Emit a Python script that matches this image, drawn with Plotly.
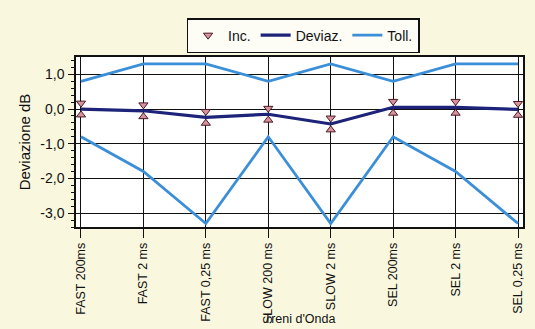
import plotly.graph_objects as go

# Tone-burst test: deviation from reference response vs. tolerance limits
categories = ["FAST 200ms", "FAST 2 ms", "FAST 0,25 ms", "SLOW 200 ms",
              "SLOW 2 ms", "SEL 200ms", "SEL 2 ms", "SEL 0,25 ms"]
deviation = [0.00, -0.05, -0.24, -0.15, -0.43, 0.05, 0.05, -0.01]
uncertainty = [0.17, 0.17, 0.17, 0.17, 0.17, 0.17, 0.17, 0.17]
tol_upper = [0.8, 1.3, 1.3, 0.8, 1.3, 0.8, 1.3, 1.3]
tol_lower = [-0.8, -1.8, -3.3, -0.8, -3.3, -0.8, -1.8, -3.3]

y_tick_vals = [1.0, 0.0, -1.0, -2.0, -3.0]
y_tick_text = ["1,0", "0,0", "-1,0", "-2,0", "-3,0"]

FONT = "Liberation Sans, Arial, sans-serif"
TOLL_COLOR = "#3b8fd8"
DEV_COLOR = "#1c2378"
MARK_FILL = "#d9929c"
MARK_EDGE = "#4a1a28"

inc_hi = [d + u for d, u in zip(deviation, uncertainty)]
inc_lo = [d - u for d, u in zip(deviation, uncertainty)]

fig = go.Figure()

fig.add_trace(go.Scatter(
    x=categories, y=tol_upper, mode="lines", name="Toll.",
    line=dict(color=TOLL_COLOR, width=2.8), legendrank=3,
))
fig.add_trace(go.Scatter(
    x=categories, y=tol_lower, mode="lines", name="Toll.",
    line=dict(color=TOLL_COLOR, width=2.8), showlegend=False,
))
fig.add_trace(go.Scatter(
    x=categories, y=deviation, mode="lines", name="Deviaz.",
    line=dict(color=DEV_COLOR, width=3.2), legendrank=2,
))
fig.add_trace(go.Scatter(
    x=categories, y=inc_hi, mode="markers", name="Inc.",
    marker=dict(symbol="triangle-down", size=8, color=MARK_FILL,
                line=dict(color=MARK_EDGE, width=1)),
    legendrank=1,
))
fig.add_trace(go.Scatter(
    x=categories, y=inc_lo, mode="markers", name="Inc.",
    marker=dict(symbol="triangle-up", size=8, color=MARK_FILL,
                line=dict(color=MARK_EDGE, width=1)),
    showlegend=False,
))

fig.update_layout(
    width=535, height=329,
    margin=dict(l=76, r=12, t=57, b=102, autoexpand=False),
    paper_bgcolor="#faf7df",
    plot_bgcolor="#ffffff",
    font=dict(family=FONT, size=13, color="#111111"),
    legend=dict(
        orientation="h", x=0.508, xanchor="center", y=1.229, yanchor="top",
        bgcolor="#fdfdf6", bordercolor="#111111", borderwidth=1.5,
        font=dict(family=FONT, size=14), itemwidth=30,
        tracegroupgap=0,
    ),
    xaxis=dict(
        type="category", range=[-0.08, 7.08], automargin=False,
        showgrid=True, gridcolor="#111111", gridwidth=1,
        showline=True, linecolor="#111111", linewidth=1.5, mirror=True,
        ticks="outside", ticklen=9, tickcolor="#111111", tickwidth=1,
        tickangle=-90, tickfont=dict(family=FONT, size=12.5),
        zeroline=False,
    ),
    yaxis=dict(
        range=[-3.4, 1.5], automargin=False,
        tickmode="array", tickvals=y_tick_vals, ticktext=y_tick_text,
        showgrid=True, gridcolor="#111111", gridwidth=1,
        showline=True, linecolor="#111111", linewidth=1.5, mirror=True,
        ticks="outside", ticklen=6, tickcolor="#111111", tickwidth=1,
        ticklabelstandoff=1,
        tickfont=dict(family=FONT, size=14),
        minor=dict(tickmode="linear", tick0=0, dtick=0.2, ticks="outside",
                   ticklen=3, tickcolor="#111111", showgrid=False),
        zeroline=False,
        title=dict(text="Deviazione dB", font=dict(family=FONT, size=15),
                   standoff=6),
    ),
    annotations=[dict(
        text="Treni d'Onda", xref="paper", yref="paper",
        x=0.5, y=-0.54, xanchor="center", yanchor="middle",
        showarrow=False, font=dict(family=FONT, size=12.5),
    )],
)

fig.write_html("out.html")
